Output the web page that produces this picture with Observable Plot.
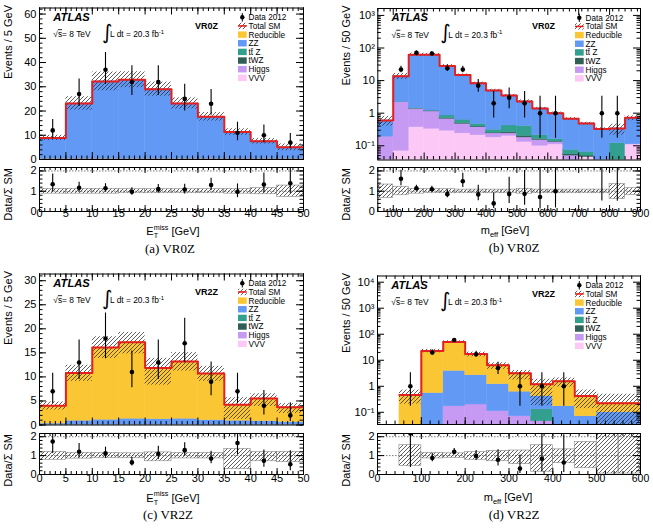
<!DOCTYPE html>
<html>
<head>
<meta charset="utf-8">
<script src="https://cdn.jsdelivr.net/npm/d3@7"></script>
<script src="https://cdn.jsdelivr.net/npm/@observablehq/plot@0.6"></script>
<style>
html,body{margin:0;padding:0;background:#fff;}
#chart{position:relative;width:653px;height:528px;overflow:hidden;background:#fff;}
</style>
</head>
<body>
<svg width="0" height="0" style="position:absolute;left:0;top:0">
  <defs>
    <pattern id="hatch" patternUnits="userSpaceOnUse" width="4" height="4">
      <path d="M-1,1 l2,-2 M0,4 l4,-4 M3,5 l2,-2" stroke="#2a2a2a" stroke-width="0.75" fill="none"/>
    </pattern>
  </defs>
</svg>
<div id="chart"></div>
<script>
// ---------------- styling constants ----------------
const FONT = "'Liberation Sans', Arial, Helvetica, sans-serif";
const SERIF = "'Liberation Serif', 'DejaVu Serif', serif";
const RED = "#e3201f";
const COLORS = {Reducible:"#fac634", ZZ:"#6299f5", ttZ:"#339f8f", tWZ:"#2f5f56", Higgs:"#c69af3", VVV:"#fcc9f6"};
const STACK_ORDER = ["VVV","Higgs","tWZ","ttZ","ZZ","Reducible"];
const LEGEND = [["data","Data 2012"],["total","Total SM"],["Reducible","Reducible"],["ZZ","ZZ"],["ttZ","tt\u0304 Z"],["tWZ","tWZ"],["Higgs","Higgs"],["VVV","VVV"]];

// ---------------- tick labels ----------------
const etmissTicks = [0,5,10,15,20,25,30,35,40,45,50];
const meffTicksVR0Z = [100,200,300,400,500,600,700,800,900];
const meffTicksVR2Z = [0,100,200,300,400,500,600];
const vr0zEtYTicks = [0,10,20,30,40,50,60];
const vr2zEtYTicks = [0,5,10,15,20,25,30];
const vr0zMeffYTicks = [0.1,1,10,100,1000];
const vr2zMeffYTicks = [0.1,1,10,100,1000,10000];
const ratioYTicks = [0,1,2];

// ---------------- (a) VR0Z, E_T^miss ----------------
const etmissBinLow = [0,5,10,15,20,25,30,35,40,45];
const etmissBinWidth = 5;
const vr0zEtReducible = [0,0,0,0,0,0,0,0,0,0];
const vr0zEtZZ    = [8.4,22.6,31.7,32.4,28.5,22.6,17.1,10.8,7.0,4.5];
const vr0zEtTtZ   = [0.1,0.1,0.1,0.1,0.1,0.1,0.1,0.1,0.1,0.1];
const vr0zEtTWZ   = [0.02,0.02,0.02,0.02,0.02,0.02,0.02,0.02,0.02,0.02];
const vr0zEtHiggs = [0.2,0.2,0.2,0.2,0.2,0.2,0.2,0.2,0.2,0.2];
const vr0zEtVVV   = [0.2,0.2,0.2,0.2,0.2,0.2,0.2,0.2,0.2,0.2];
const vr0zEtData  = [12,27,37,32,32,25,23,11,10,7];
const vr0zEtDataErrDown = [3.41,5.16,6.05,5.62,5.62,4.96,4.76,3.26,3.11,2.58];
const vr0zEtDataErrUp   = [4.55,6.26,7.14,6.71,6.71,6.06,5.86,4.40,4.26,3.77];
const vr0zEtSystDown = [0.12,0.12,0.12,0.1,0.1,0.1,0.1,0.12,0.15,0.28];
const vr0zEtSystUp   = [0.12,0.12,0.12,0.1,0.1,0.1,0.1,0.12,0.15,0.28];

// ---------------- (b) VR0Z, m_eff ----------------
const meffBinLowVR0Z = [50,100,150,200,250,300,350,400,450,500,550,600,650,700,750,800,850];
const meffBinWidth = 50;
const vr0zMeffReducible = [0,0,0,0,0,0,0,0,0,0,0,0,0,0,0,0,0];
const vr0zMeffZZ    = [0.41,11.4,60.6,60.8,27.2,14.1,7.83,4.69,3.08,1.9,1.19,0.84,0.6,0.42,0.33,0.22,0.61];
const vr0zMeffTtZ   = [0,0.03,0.05,0.05,0.15,0.14,0.08,0.06,0.16,0.2,0.05,0.025,0.02,0.015,0,0.12,0];
const vr0zMeffTWZ   = [0,0.01,0.01,0.02,0.03,0.02,0.02,0.01,0.02,0.02,0.01,0.005,0.005,0.005,0,0,0];
const vr0zMeffHiggs = [0.17,2.1,1.0,0.8,0.38,0.23,0.16,0.06,0.04,0.05,0.05,0.02,0.02,0,0,0,0];
const vr0zMeffVVV   = [0.02,0.07,0.37,0.33,0.29,0.24,0.21,0.18,0.2,0.13,0.1,0.11,0.03,0.045,0,0,0.11];
const vr0zMeffData  = [0,22,71,68,24,22,7,2,3,2,1,1,0,0,1,1,0];
const vr0zMeffDataErrDown = [0,4.64,8.4,8.23,4.86,4.64,2.58,1.29,1.63,1.29,0.83,0.83,0,0,0.83,0.83,0];
const vr0zMeffDataErrUp   = [0,5.76,9.46,9.28,5.96,5.76,3.77,2.64,2.92,2.64,2.3,2.3,0,0,2.3,2.3,0];
const vr0zMeffSystDown = [0.33,0.2,0.12,0.1,0.1,0.1,0.1,0.1,0.1,0.12,0.1,0.1,0.1,0.1,0.1,0.38,0.18];
const vr0zMeffSystUp   = [0.33,0.22,0.12,0.1,0.1,0.08,0.08,0.08,0.08,0.12,0.08,0.08,0.08,0.08,0.08,0.35,0.15];

// ---------------- (c) VR2Z, E_T^miss ----------------
const vr2zEtReducible = [3.7,9.9,15.0,15.9,10.65,11.9,9.7,3.3,4.7,3.1];
const vr2zEtZZ    = [0.2,0.8,1.0,1.2,1.1,1.2,0.9,0.8,0.7,0.5];
const vr2zEtTtZ   = [0.03,0.03,0.03,0.03,0.03,0.03,0.03,0.03,0.03,0.03];
const vr2zEtTWZ   = [0.01,0.01,0.01,0.01,0.01,0.01,0.01,0.01,0.01,0.01];
const vr2zEtHiggs = [0.04,0.04,0.04,0.04,0.04,0.04,0.04,0.04,0.04,0.04];
const vr2zEtVVV   = [0.02,0.02,0.02,0.02,0.02,0.02,0.02,0.02,0.02,0.02];
const vr2zEtData  = [7,13,18,11,13,17,9,7,4,2];
const vr2zEtDataErrDown = [2.58,3.55,4.2,3.26,3.55,4.08,2.94,2.58,1.91,1.29];
const vr2zEtDataErrUp   = [3.77,4.67,5.3,4.4,4.67,5.18,4.11,3.77,3.16,2.64];
const vr2zEtSystDown = [0.22,0.16,0.14,0.14,0.3,0.15,0.15,0.72,0.3,0.35];
const vr2zEtSystUp   = [0.2,0.15,0.14,0.12,0.17,0.14,0.14,0.35,0.18,0.2];

// ---------------- (d) VR2Z, m_eff ----------------
const meffBinLowVR2Z = [0,50,100,150,200,250,300,350,400,450,500,550];
const vr2zMeffReducible = [0,0.46,22.3,46.1,14.75,5.2,2.58,0.78,1.4,0.35,0.125,0.125];
const vr2zMeffZZ    = [0,0,0.55,3.73,2.45,1.09,0.55,0.29,0.17,0.07,0.1,0.1];
const vr2zMeffTtZ   = [0,0,0,0,0,0,0,0.085,0,0,0,0];
const vr2zMeffTWZ   = [0,0,0,0,0,0,0,0,0,0,0,0];
const vr2zMeffHiggs = [0,0,0,0.17,0.2,0.11,0.07,0.045,0,0,0,0];
const vr2zMeffVVV   = [0,0,0,0,0,0,0,0,0,0,0,0];
const vr2zMeffData  = [0,1,20,60,17,5,1,1,1,0,0,0];
const vr2zMeffDataErrDown = [0,0.83,4.43,7.72,4.08,2.16,0.83,0.83,0.83,0,0,0];
const vr2zMeffDataErrUp   = [0,2.3,5.52,8.79,5.18,3.38,2.3,2.3,2.3,0,0,0];
const vr2zMeffSystDown = [0,0.55,0.15,0.12,0.22,0.3,0.45,0.85,0.4,0.67,0.95,0.95];
const vr2zMeffSystUp   = [0,0.55,0.15,0.12,0.18,0.25,0.27,0.55,0.33,0.72,1.2,1.2];

// ---------------- helpers ----------------
const SUP = {"-":"\u207B","0":"\u2070","1":"\u00B9","2":"\u00B2","3":"\u00B3","4":"\u2074"};
function fmtLog(v){ const e = Math.round(Math.log10(v)); if (e===0) return "1"; if (e===1) return "10"; return "10" + String(e).split("").map(c=>SUP[c]).join(""); }
function logMinor(dom){ const out=[]; for(let e=Math.floor(Math.log10(dom[0])); e<=Math.ceil(Math.log10(dom[1])); e++) for(let m=2;m<=9;m++){const v=m*Math.pow(10,e); if(v>=dom[0]&&v<=dom[1]) out.push(v);} return out; }
function inDom(arr, dom){ return arr.filter(v => v >= Math.min(...dom) - 1e-9 && v <= Math.max(...dom) + 1e-9); }

function frameTicks(xMaj, xMin, yMaj, yMin, W, H, L) {
  const s = {stroke:"black", strokeWidth:1};
  return [
    Plot.tickX(xMaj, {x:d=>d, insetTop:H-L.xM, ...s}),
    Plot.tickX(xMaj, {x:d=>d, insetBottom:H-L.xM, ...s}),
    Plot.tickX(xMin, {x:d=>d, insetTop:H-L.xm, ...s}),
    Plot.tickX(xMin, {x:d=>d, insetBottom:H-L.xm, ...s}),
    Plot.tickY(yMaj, {y:d=>d, insetRight:W-L.yM, ...s}),
    Plot.tickY(yMaj, {y:d=>d, insetLeft:W-L.yM, ...s}),
    Plot.tickY(yMin, {y:d=>d, insetRight:W-L.ym, ...s}),
    Plot.tickY(yMin, {y:d=>d, insetLeft:W-L.ym, ...s})
  ];
}

function mainDecor(P) {
  return () => {
    const g = d3.create("svg:g").attr("font-family", FONT).attr("fill", "black").attr("text-anchor", "start");
    const L = P.frame.l, T = P.frame.t, R = P.frame.r;
    g.append("text").attr("x", L+14.3).attr("y", T+13.2).attr("font-size", 11.2)
      .attr("font-weight", "bold").attr("font-style", "italic").text("ATLAS");
    const s = g.append("text").attr("x", L+14.3).attr("y", T+29.8).attr("font-size", 8.4);
    s.append("tspan").text("\u221A");
    s.append("tspan").attr("text-decoration", "overline").text("s");
    s.append("tspan").text("= 8 TeV");
    g.append("text").attr("x", L+63).attr("y", T+31).attr("font-size", 20)
      .attr("font-family", "'DejaVu Sans', sans-serif").text("\u222B");
    const lum = g.append("text").attr("x", L+71).attr("y", T+29.8).attr("font-size", 8.4);
    lum.append("tspan").text("L dt = 20.3 fb");
    lum.append("tspan").attr("font-size", 6).attr("dy", -3.5).text("-1");
    g.append("text").attr("x", R-108).attr("y", T+21.3).attr("font-size", 9)
      .attr("font-weight", "bold").text(P.region);
    // legend
    const x0 = R-65, y0 = T+9.8, dy = 8.65;
    LEGEND.forEach(([k, label], i) => {
      const y = y0 + i*dy;
      if (k === "data") {
        g.append("line").attr("x1", x0+4.3).attr("x2", x0+4.3).attr("y1", y-4.2).attr("y2", y+4.2).attr("stroke", "black");
        g.append("circle").attr("cx", x0+4.3).attr("cy", y).attr("r", 2.2).attr("fill", "black");
      } else if (k === "total") {
        g.append("rect").attr("x", x0).attr("y", y-3.2).attr("width", 8.7).attr("height", 6.4).attr("fill", "url(#hatch)");
        g.append("line").attr("x1", x0).attr("x2", x0+8.7).attr("y1", y).attr("y2", y).attr("stroke", RED).attr("stroke-width", 1.6);
      } else {
        g.append("rect").attr("x", x0).attr("y", y-3.2).attr("width", 8.7).attr("height", 6.4).attr("fill", COLORS[k]);
      }
      g.append("text").attr("x", x0+10.6).attr("y", y+2.9).attr("font-size", 8.2).text(label);
    });
    // y title
    g.append("text").attr("transform", `translate(${L-27},${T-2.5}) rotate(-90)`)
      .attr("text-anchor", "end").attr("font-size", 11).text(P.yTitle);
    return g.node();
  };
}

function ratioDecor(P) {
  return () => {
    const g = d3.create("svg:g").attr("font-family", FONT).attr("fill", "black").attr("text-anchor", "start");
    const L = P.frame.l, RT = P.rframe.t;
    g.append("text").attr("transform", `translate(${L-27},${RT+1}) rotate(-90)`)
      .attr("text-anchor", "end").attr("font-size", 11).text("Data/\u03A3 SM");
    const t = g.append("text").attr("x", P.xTitleX).attr("y", P.xTitleBase)
      .attr("text-anchor", "middle").attr("font-size", 11);
    if (P.xVar === "et") {
      t.append("tspan").text("E");
      t.append("tspan").attr("font-size", 7.2).attr("dy", -5.2).text("miss");
      t.append("tspan").attr("font-size", 7.2).attr("dx", -14.8).attr("dy", 8.6).text("T");
      t.append("tspan").attr("dx", 10.4).attr("dy", -3.4).text(" [GeV]");
    } else {
      t.append("tspan").text("m");
      t.append("tspan").attr("font-size", 7.5).attr("dy", 2.8).text("eff");
      t.append("tspan").attr("dy", -2.8).text(" [GeV]");
    }
    g.append("text").attr("x", P.captionX).attr("y", P.captionBase).attr("text-anchor", "middle")
      .attr("font-family", SERIF).attr("font-size", 13).text(P.caption);
    return g.node();
  };
}

const RATIO_DOMAIN = [0, 2.17];

function makePlots(P) {
  const total = P.low.map((_, i) => STACK_ORDER.reduce((s, k) => s + P.comps[k][i], 0));
  const log = P.yType === "log";
  const floor = log ? P.yDomain[0]*0.3 : 0;
  const W = P.frame.r - P.frame.l, H = P.frame.b - P.frame.t, RH = P.rframe.b - P.rframe.t;

  const stackMarks = STACK_ORDER.map(k => {
    const rows = [];
    P.low.forEach((x, i) => {
      let cum = 0;
      for (const kk of STACK_ORDER) { if (kk === k) break; cum += P.comps[kk][i]; }
      const v = P.comps[k][i];
      if (v > 0) rows.push({x1: x, x2: x + P.width, y1: Math.max(cum, floor), y2: cum + v});
    });
    return Plot.rect(rows, {x1:"x1", x2:"x2", y1:"y1", y2:"y2", fill: COLORS[k], stroke: COLORS[k], strokeWidth: 0.4, clip: true});
  });

  const band = P.low.map((x, i) => ({x1: x, x2: x + P.width, t: total[i],
    y1: Math.max(total[i]*(1 - P.systDown[i]), floor), y2: total[i]*(1 + P.systUp[i]),
    r1: 1 - P.systDown[i], r2: 1 + P.systUp[i]})).filter(d => d.t > 0);

  const steps = [];
  P.low.forEach((x, i) => { if (total[i] > 0) steps.push({x, y: total[i]}, {x: x + P.width, y: total[i]}); });

  const pts = P.low.map((x, i) => ({x: x + P.width/2, n: P.data[i], t: total[i],
    lo: P.data[i] - P.errDown[i], hi: P.data[i] + P.errUp[i]})).filter(d => d.n > 0);
  const rpts = pts.filter(d => d.t > 0).map(d => ({x: d.x, r: d.n/d.t, lo: d.lo/d.t, hi: d.hi/d.t}));

  const xMin = inDom(d3.range(P.xDomain[0], P.xDomain[1] + 1e-9, P.xMinorStep), P.xDomain);
  const yMaj = inDom(P.yMajor, P.yDomain);
  const yMin = log ? logMinor(P.yDomain) : inDom(d3.range(0, P.yDomain[1], P.yMinorStep), P.yDomain);
  const yFmt = log ? fmtLog : (d => String(d));

  const style = "position:absolute;left:0;top:0;background:transparent;overflow:visible;";
  const common = {width: 653, height: 528, marginLeft: P.frame.l, marginRight: 653 - P.frame.r, style};

  const mainMarks = [
    ...stackMarks,
    Plot.rect(band, {x1:"x1", x2:"x2", y1:"y1", y2:"y2", fill: "url(#hatch)", clip: true}),
    Plot.line(steps, {x:"x", y:"y", stroke: RED, strokeWidth: 2, clip: true}),
    Plot.ruleX(pts, {x:"x", y1:"lo", y2:"hi", stroke:"black", strokeWidth: 1.1, clip: true}),
    Plot.dot(pts, {x:"x", y:"n", r: 2.3, fill:"black", clip: true}),
    Plot.frame({stroke:"black", strokeWidth: 1}),
    ...frameTicks(P.xMajor, xMin, yMaj, yMin, W, H, {xM: 7, xm: 3.5, yM: 7, ym: 3.5}),
    Plot.text(yMaj, {y: d => d, text: yFmt, frameAnchor: "left", dx: -3, textAnchor: "end",
      fontSize: 11, fontFamily: FONT, fill: "black"}),
    mainDecor(P)
  ];
  const main = Plot.plot({...common, marginTop: P.frame.t, marginBottom: 528 - P.frame.b,
    x: {domain: P.xDomain, axis: null}, y: {type: P.yType, domain: P.yDomain, axis: null}, marks: mainMarks});

  const rMin = inDom(d3.range(0, 2.2, 0.2), RATIO_DOMAIN);
  const ratioMarks = [
    Plot.ruleY([1, 2], {stroke: "#555", strokeWidth: 0.8, strokeDasharray: "1.5,1.5"}),
    Plot.rect(band, {x1:"x1", x2:"x2", y1:"r1", y2:"r2", fill: "url(#hatch)", stroke: "#888", strokeWidth: 0.6, clip: true}),
    Plot.ruleX(rpts, {x:"x", y1:"lo", y2:"hi", stroke:"black", strokeWidth: 1.1, clip: true}),
    Plot.dot(rpts, {x:"x", y:"r", r: 2.3, fill:"black", clip: true}),
    Plot.frame({stroke:"black", strokeWidth: 1}),
    ...frameTicks(P.xMajor, xMin, ratioYTicks, rMin, W, RH, {xM: 6, xm: 3, yM: 7, ym: 3.5}),
    Plot.text(ratioYTicks, {y: d => d, text: d => String(d), frameAnchor: "left", dx: -3, textAnchor: "end",
      fontSize: 11, fontFamily: FONT, fill: "black"}),
    Plot.text(P.xMajor, {x: d => d, text: d => String(d), frameAnchor: "bottom", dy: P.tickLabelCenter - P.rframe.b,
      fontSize: P.xTickSize, fontFamily: FONT, fill: "black"}),
    ratioDecor(P)
  ];
  const ratio = Plot.plot({...common, marginTop: P.rframe.t, marginBottom: 528 - P.rframe.b,
    x: {domain: P.xDomain, axis: null}, y: {domain: RATIO_DOMAIN, axis: null}, marks: ratioMarks});
  return [main, ratio];
}

const panels = [
  { region: "VR0Z", caption: "(a) VR0Z", yTitle: "Events / 5 GeV", xVar: "et",
    low: etmissBinLow, width: etmissBinWidth,
    comps: {Reducible: vr0zEtReducible, ZZ: vr0zEtZZ, ttZ: vr0zEtTtZ, tWZ: vr0zEtTWZ, Higgs: vr0zEtHiggs, VVV: vr0zEtVVV},
    data: vr0zEtData, errDown: vr0zEtDataErrDown, errUp: vr0zEtDataErrUp, systDown: vr0zEtSystDown, systUp: vr0zEtSystUp,
    xDomain: [0, 50], yType: "linear", yDomain: [0, 62.5],
    frame: {l: 39, r: 303, t: 7.5, b: 159}, rframe: {t: 167, b: 211},
    xMajor: etmissTicks, xMinorStep: 1, yMajor: vr0zEtYTicks, yMinorStep: 2,
    xTickSize: 11, tickLabelCenter: 216.5, xTitleX: 173, xTitleBase: 235, captionX: 170, captionBase: 253 },
  { region: "VR0Z", caption: "(b) VR0Z", yTitle: "Events / 50 GeV", xVar: "meff",
    low: meffBinLowVR0Z, width: meffBinWidth,
    comps: {Reducible: vr0zMeffReducible, ZZ: vr0zMeffZZ, ttZ: vr0zMeffTtZ, tWZ: vr0zMeffTWZ, Higgs: vr0zMeffHiggs, VVV: vr0zMeffVVV},
    data: vr0zMeffData, errDown: vr0zMeffDataErrDown, errUp: vr0zMeffDataErrUp, systDown: vr0zMeffSystDown, systUp: vr0zMeffSystUp,
    xDomain: [50, 900], yType: "log", yDomain: [0.0366, 1630],
    frame: {l: 377.3, r: 640, t: 8, b: 159.5}, rframe: {t: 167, b: 211},
    xMajor: meffTicksVR0Z, xMinorStep: 20, yMajor: vr0zMeffYTicks,
    xTickSize: 10.5, tickLabelCenter: 216.5, xTitleX: 505, xTitleBase: 234, captionX: 514, captionBase: 252 },
  { region: "VR2Z", caption: "(c) VR2Z", yTitle: "Events / 5 GeV", xVar: "et",
    low: etmissBinLow, width: etmissBinWidth,
    comps: {Reducible: vr2zEtReducible, ZZ: vr2zEtZZ, ttZ: vr2zEtTtZ, tWZ: vr2zEtTWZ, Higgs: vr2zEtHiggs, VVV: vr2zEtVVV},
    data: vr2zEtData, errDown: vr2zEtDataErrDown, errUp: vr2zEtDataErrUp, systDown: vr2zEtSystDown, systUp: vr2zEtSystUp,
    xDomain: [0, 50], yType: "linear", yDomain: [0, 31.4],
    frame: {l: 39, r: 303, t: 273.5, b: 424.5}, rframe: {t: 433, b: 474},
    xMajor: etmissTicks, xMinorStep: 1, yMajor: vr2zEtYTicks, yMinorStep: 1,
    xTickSize: 11, tickLabelCenter: 481.5, xTitleX: 173, xTitleBase: 501.5, captionX: 168, captionBase: 519 },
  { region: "VR2Z", caption: "(d) VR2Z", yTitle: "Events / 50 GeV", xVar: "meff",
    low: meffBinLowVR2Z, width: meffBinWidth,
    comps: {Reducible: vr2zMeffReducible, ZZ: vr2zMeffZZ, ttZ: vr2zMeffTtZ, tWZ: vr2zMeffTWZ, Higgs: vr2zMeffHiggs, VVV: vr2zMeffVVV},
    data: vr2zMeffData, errDown: vr2zMeffDataErrDown, errUp: vr2zMeffDataErrUp, systDown: vr2zMeffSystDown, systUp: vr2zMeffSystUp,
    xDomain: [0, 600], yType: "log", yDomain: [0.034, 17300],
    frame: {l: 377, r: 640, t: 275.5, b: 424}, rframe: {t: 433, b: 474},
    xMajor: meffTicksVR2Z, xMinorStep: 20, yMajor: vr2zMeffYTicks,
    xTickSize: 10.5, tickLabelCenter: 481.5, xTitleX: 508, xTitleBase: 501, captionX: 514, captionBase: 519 }
];

const chart = document.getElementById("chart");
for (const P of panels) {
  for (const svg of makePlots(P)) chart.appendChild(svg);
}
</script>
</body>
</html>
